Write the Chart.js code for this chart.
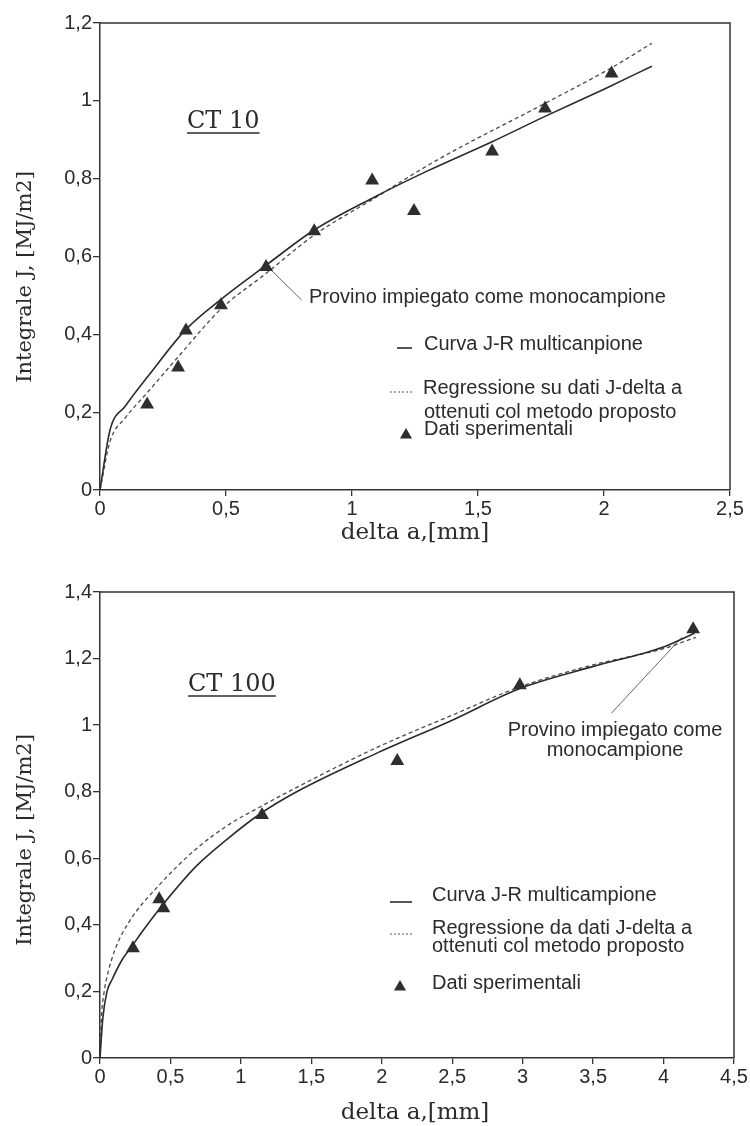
<!DOCTYPE html>
<html>
<head>
<meta charset="utf-8">
<script src="https://cdn.jsdelivr.net/npm/chart.js@4.4.1/dist/chart.umd.min.js"></script>
<style>
  html, body { margin: 0; padding: 0; background: #ffffff; }
  #wrap { position: relative; width: 750px; height: 1126px; }
  .pane { position: absolute; left: 0; width: 750px; height: 563px; }
  canvas { display: block; }
</style>
</head>
<body>
<div id="wrap">
  <div class="pane" style="top:0"><canvas id="c1" width="750" height="563"></canvas></div>
  <div class="pane" style="top:563px"><canvas id="c2" width="750" height="563"></canvas></div>
</div>
<script>
// ---------------- DATA ----------------
// CT 10
const ct10XTicks = ['0', '0,5', '1', '1,5', '2', '2,5'];
const ct10YTicks = ['0', '0,2', '0,4', '0,6', '0,8', '1', '1,2'];
const ct10ExpA = [0.187, 0.31, 0.341, 0.48, 0.659, 0.85, 1.08, 1.246, 1.556, 1.766, 2.03];
const ct10ExpJ = [0.22, 0.315, 0.41, 0.475, 0.573, 0.665, 0.795, 0.717, 0.87, 0.98, 1.07];
const ct10MultiA = [0, 0.04, 0.1, 0.2, 0.34, 0.48, 0.66, 0.85, 1.09, 1.3, 1.556, 1.766, 2.0, 2.19];
const ct10MultiJ = [0, 0.155, 0.215, 0.30, 0.412, 0.49, 0.578, 0.668, 0.753, 0.82, 0.895, 0.96, 1.03, 1.089];
const ct10RegA = [0, 0.04, 0.1, 0.19, 0.31, 0.48, 0.66, 0.85, 1.09, 1.33, 1.77, 2.03, 2.19];
const ct10RegJ = [0, 0.125, 0.185, 0.252, 0.342, 0.465, 0.557, 0.655, 0.75, 0.845, 0.995, 1.085, 1.148];
const ct10CalloutA = [0.659, 0.80];
const ct10CalloutJ = [0.578, 0.488];

// CT 100
const ct100XTicks = ['0', '0,5', '1', '1,5', '2', '2,5', '3', '3,5', '4', '4,5'];
const ct100YTicks = ['0', '0,2', '0,4', '0,6', '0,8', '1', '1,2', '1,4'];
const ct100ExpA = [0.234, 0.42, 0.45, 1.15, 2.11, 2.98, 4.21];
const ct100ExpJ = [0.33, 0.477, 0.45, 0.73, 0.892, 1.12, 1.288];
const ct100MultiA = [0, 0.02, 0.05, 0.085, 0.15, 0.234, 0.3, 0.46, 0.68, 0.91, 1.135, 1.38, 1.95, 2.5, 2.98, 3.49, 4.0, 4.22];
const ct100MultiJ = [0, 0.12, 0.2, 0.235, 0.29, 0.34, 0.38, 0.468, 0.575, 0.66, 0.733, 0.796, 0.913, 1.015, 1.11, 1.175, 1.235, 1.276];
const ct100RegA = [0, 0.01, 0.03, 0.056, 0.106, 0.2, 0.41, 0.674, 0.91, 1.135, 1.383, 1.95, 2.5, 2.98, 3.49, 4.0, 4.23];
const ct100RegJ = [0, 0.12, 0.2, 0.255, 0.325, 0.405, 0.515, 0.625, 0.7, 0.754, 0.81, 0.93, 1.03, 1.115, 1.18, 1.23, 1.264];
const ct100CalloutA = [4.13, 3.63];
const ct100CalloutJ = [1.264, 1.036];

// ---------------- helpers ----------------
const INK = '#2b2b2b';
const SANS = '"Liberation Sans", Arial, sans-serif';
const SERIF = '"DejaVu Serif", serif';

function pts(a, j) { return a.map((x, i) => ({ x: x, y: j[i] })); }

function triangle(ctx, x, y, r) {
  ctx.beginPath();
  ctx.moveTo(x, y - r);
  ctx.lineTo(x + r * 0.866, y + r * 0.5);
  ctx.lineTo(x - r * 0.866, y + r * 0.5);
  ctx.closePath();
  ctx.fill();
}

function decorPlugin(d) {
  return {
    id: 'decor',
    afterDraw(chart) {
      const ctx = chart.ctx;
      const ca = chart.chartArea;
      ctx.save();
      // frame top & right
      ctx.strokeStyle = '#333';
      ctx.lineWidth = 1.5;
      ctx.beginPath();
      ctx.moveTo(ca.left, ca.top);
      ctx.lineTo(ca.right, ca.top);
      ctx.lineTo(ca.right, ca.bottom);
      ctx.stroke();

      ctx.fillStyle = INK;
      // y axis title
      ctx.save();
      ctx.translate(d.yTitleX, d.yTitleY);
      ctx.rotate(-Math.PI / 2);
      ctx.font = d.yTitleSize + 'px ' + SERIF;
      ctx.textAlign = 'center';
      ctx.textBaseline = 'middle';
      ctx.fillText('Integrale J, [MJ/m2]', 0, 0);
      ctx.restore();
      // x axis title
      ctx.font = d.xTitleSize + 'px ' + SERIF;
      ctx.textAlign = 'center';
      ctx.textBaseline = 'middle';
      ctx.fillText('delta a,[mm]', d.xTitleX, d.xTitleY);

      // CT label, underlined
      ctx.font = d.ctSize + 'px ' + SERIF;
      ctx.textAlign = 'left';
      ctx.textBaseline = 'alphabetic';
      ctx.fillText(d.ctText, d.ctX, d.ctBase);
      const w = ctx.measureText(d.ctText).width;
      ctx.strokeStyle = INK;
      ctx.lineWidth = 1.3;
      ctx.beginPath();
      ctx.moveTo(d.ctX, d.ctUnder);
      ctx.lineTo(d.ctX + w, d.ctUnder);
      ctx.stroke();

      // legend + callout text
      ctx.font = '20px ' + SANS;
      ctx.textBaseline = 'middle';
      ctx.textAlign = 'left';
      d.texts.forEach(t => {
        ctx.textAlign = t.align || 'left';
        ctx.fillText(t.s, t.x, t.y);
      });
      // legend symbols
      ctx.strokeStyle = INK;
      ctx.lineWidth = 1.6;
      ctx.setLineDash([]);
      ctx.beginPath();
      ctx.moveTo(d.solidSym[0], d.solidSym[2]);
      ctx.lineTo(d.solidSym[1], d.solidSym[2]);
      ctx.stroke();
      ctx.strokeStyle = '#555';
      ctx.lineWidth = 1.2;
      ctx.setLineDash([2, 2]);
      ctx.beginPath();
      ctx.moveTo(d.dashSym[0], d.dashSym[2]);
      ctx.lineTo(d.dashSym[1], d.dashSym[2]);
      ctx.stroke();
      ctx.setLineDash([]);
      ctx.fillStyle = '#2e2e2e';
      triangle(ctx, d.triSym[0], d.triSym[1], 7);
      ctx.restore();
    }
  };
}

function makeChart(id, o) {
  const tickFont = { family: SANS, size: 20 };
  return new Chart(document.getElementById(id), {
    type: 'scatter',
    data: {
      datasets: [
        {
          label: 'Dati sperimentali',
          data: pts(o.expA, o.expJ),
          pointStyle: 'triangle',
          pointRadius: 8,
          backgroundColor: '#2e2e2e',
          borderWidth: 0,
          showLine: false,
          order: 0
        },
        {
          label: 'Curva J-R multicampione',
          data: pts(o.multiA, o.multiJ),
          showLine: true,
          pointRadius: 0,
          borderColor: INK,
          borderWidth: 1.6,
          cubicInterpolationMode: 'monotone',
          fill: false,
          order: 1
        },
        {
          label: 'Regressione',
          data: pts(o.regA, o.regJ),
          showLine: true,
          pointRadius: 0,
          borderColor: '#4a4a4a',
          borderWidth: 1.3,
          borderDash: [4, 3],
          cubicInterpolationMode: 'monotone',
          fill: false,
          order: 2
        },
        {
          label: 'callout',
          data: pts(o.callA, o.callJ),
          showLine: true,
          pointRadius: 0,
          borderColor: '#555',
          borderWidth: 0.9,
          fill: false,
          order: 3
        }
      ]
    },
    options: {
      responsive: false,
      animation: false,
      events: [],
      layout: { padding: { top: o.padTop, right: o.padRight, left: 0, bottom: 0 } },
      plugins: { legend: { display: false }, tooltip: { enabled: false } },
      scales: {
        x: {
          type: 'linear',
          min: 0, max: o.xMax,
          ticks: {
            stepSize: 0.5, autoSkip: false, maxRotation: 0,
            callback: (v, i) => o.xTicks[i],
            font: tickFont, color: INK, padding: 1
          },
          grid: { drawOnChartArea: false, drawTicks: true, tickLength: 6, color: '#333', lineWidth: 1.3 },
          border: { display: true, color: '#333', width: 1.5 },
          afterFit(s) { s.height = o.xAxisH; s.paddingLeft = 0; s.paddingRight = 0; }
        },
        y: {
          type: 'linear',
          min: 0, max: o.yMax,
          ticks: {
            stepSize: 0.2, autoSkip: false,
            callback: (v, i) => o.yTicks[i],
            font: tickFont, color: INK, padding: 1
          },
          grid: { drawOnChartArea: false, drawTicks: true, tickLength: 7, color: '#333', lineWidth: 1.3 },
          border: { display: true, color: '#333', width: 1.5 },
          afterFit(s) { s.width = 100; s.paddingTop = 0; s.paddingBottom = 0; }
        }
      }
    },
    plugins: [decorPlugin(o.decor)]
  });
}

// ---------------- CT 10 ----------------
makeChart('c1', {
  xMax: 2.5, yMax: 1.2, xTicks: ct10XTicks, yTicks: ct10YTicks,
  expA: ct10ExpA, expJ: ct10ExpJ,
  multiA: ct10MultiA, multiJ: ct10MultiJ,
  regA: ct10RegA, regJ: ct10RegJ,
  callA: ct10CalloutA, callJ: ct10CalloutJ,
  padTop: 23, padRight: 20, xAxisH: 73,
  decor: {
    yTitleX: 26, yTitleY: 277, yTitleSize: 21,
    xTitleX: 415, xTitleY: 533, xTitleSize: 23,
    ctText: 'CT 10', ctX: 187, ctBase: 128, ctUnder: 133, ctSize: 24,
    texts: [
      { s: 'Provino impiegato come monocampione', x: 309, y: 297 },
      { s: 'Curva J-R multicanpione', x: 424, y: 344 },
      { s: 'Regressione su dati J-delta a', x: 423, y: 388 },
      { s: 'ottenuti col metodo proposto', x: 424, y: 412 },
      { s: 'Dati sperimentali', x: 424, y: 429 }
    ],
    solidSym: [397, 412, 348],
    dashSym: [390, 412, 392],
    triSym: [406, 435]
  }
});

// ---------------- CT 100 ----------------
makeChart('c2', {
  xMax: 4.5, yMax: 1.4, xTicks: ct100XTicks, yTicks: ct100YTicks,
  expA: ct100ExpA, expJ: ct100ExpJ,
  multiA: ct100MultiA, multiJ: ct100MultiJ,
  regA: ct100RegA, regJ: ct100RegJ,
  callA: ct100CalloutA, callJ: ct100CalloutJ,
  padTop: 29, padRight: 16, xAxisH: 68,
  decor: {
    yTitleX: 26, yTitleY: 277, yTitleSize: 21,
    xTitleX: 415, xTitleY: 550, xTitleSize: 23,
    ctText: 'CT 100', ctX: 188, ctBase: 128, ctUnder: 133, ctSize: 24,
    texts: [
      { s: 'Provino impiegato come', x: 615, y: 167, align: 'center' },
      { s: 'monocampione', x: 615, y: 187, align: 'center' },
      { s: 'Curva J-R multicampione', x: 432, y: 332 },
      { s: 'Regressione da dati J-delta a', x: 432, y: 365 },
      { s: 'ottenuti col metodo proposto', x: 432, y: 383 },
      { s: 'Dati sperimentali', x: 432, y: 420 }
    ],
    solidSym: [390, 412, 339],
    dashSym: [390, 412, 371],
    triSym: [400, 424]
  }
});
</script>
</body>
</html>
